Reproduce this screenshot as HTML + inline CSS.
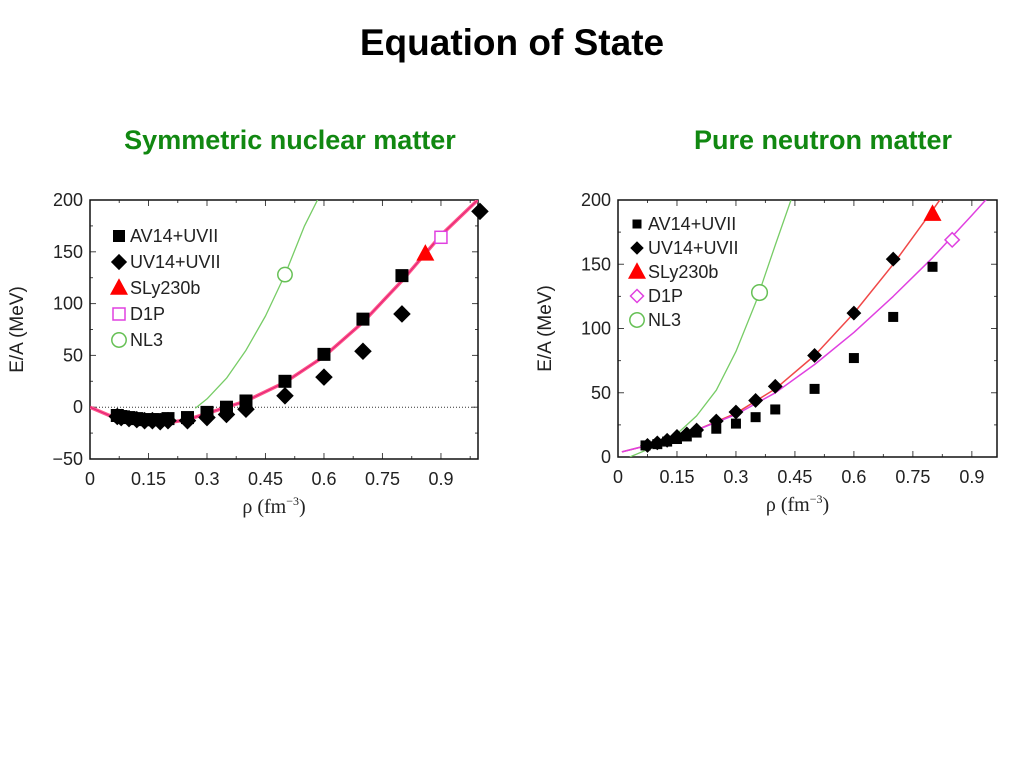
<!DOCTYPE html>
<html><head><meta charset="utf-8">
<style>
body{margin:0;background:#fff;}
svg{display:block;font-family:"Liberation Sans",sans-serif;}
</style></head>
<body>
<svg id="s" width="1023" height="767" viewBox="0 0 1023 767">
<text x="512" y="55" text-anchor="middle" font-size="37" font-weight="bold">Equation of State</text>
<text x="290" y="149" text-anchor="middle" font-size="27" font-weight="bold" fill="#118811">Symmetric nuclear matter</text>
<text x="823" y="149" text-anchor="middle" font-size="27" font-weight="bold" fill="#118811">Pure neutron matter</text>
<g id="L"></g>
<g id="R"></g>
</svg>
<script>
// ---- Left chart data ----
const L_av14_x=[0.07,0.08,0.1,0.12,0.14,0.16,0.18,0.2,0.25,0.3,0.35,0.4,0.5,0.6,0.7,0.8];
const L_av14_y=[-8,-9,-10,-11,-12,-12,-12,-11,-10,-5,0,6,25,51,85,127];
const L_uv14_x=[0.07,0.08,0.1,0.12,0.14,0.16,0.18,0.2,0.25,0.3,0.35,0.4,0.5,0.6,0.7,0.8,1.0];
const L_uv14_y=[-9,-10,-11,-12,-13,-13,-14,-13,-13,-10,-7,-2,11,29,54,90,189];
const L_sly_x=[0.86], L_sly_y=[148];
const L_d1p_x=[0.9], L_d1p_y=[164];
const L_nl3_x=[0.5], L_nl3_y=[128];
const L_curve_x=[0,0.05,0.1,0.16,0.2,0.25,0.3,0.35,0.4,0.5,0.6,0.7,0.8,0.9,1.0];
const L_curve_y=[0,-8,-13,-16,-15,-12,-6,0,6,24,49,82,122,166,202];
const L_nl3c_x=[0.27,0.3,0.35,0.4,0.45,0.5,0.55,0.59];
const L_nl3c_y=[-1,8,28,55,88,128,175,205];
const L_yticks=[-50,0,50,100,150,200];
const L_xticks=[0,0.15,0.3,0.45,0.6,0.75,0.9];
const L_xtick_labels=["0","0.15","0.3","0.45","0.6","0.75","0.9"];
// ---- Right chart data ----
const R_av14_x=[0.07,0.1,0.125,0.15,0.175,0.2,0.25,0.3,0.35,0.4,0.5,0.6,0.7,0.8];
const R_av14_y=[9,10,12,14,16,19,22,26,31,37,53,77,109,148];
const R_uv14_x=[0.075,0.1,0.125,0.15,0.175,0.2,0.25,0.3,0.35,0.4,0.5,0.6,0.7];
const R_uv14_y=[9,11,13,16,18,21,28,35,44,55,79,112,154];
const R_sly_x=[0.8], R_sly_y=[189];
const R_d1p_x=[0.85], R_d1p_y=[169];
const R_nl3_x=[0.36], R_nl3_y=[128];
const R_red_x=[0.01,0.1,0.2,0.3,0.4,0.5,0.6,0.7,0.8,0.83];
const R_red_y=[4,11,21,34,53,79,112,150,192,205];
const R_pink_x=[0.01,0.1,0.2,0.3,0.4,0.5,0.6,0.7,0.8,0.9,0.95];
const R_pink_y=[4,11,21,33,50,72,97,125,155,188,205];
const R_nl3c_x=[0.03,0.1,0.15,0.2,0.25,0.3,0.35,0.4,0.44];
const R_nl3c_y=[0,9,18,32,52,82,120,165,200];
const R_yticks=[0,50,100,150,200];
const R_xticks=[0,0.15,0.3,0.45,0.6,0.75,0.9];
const R_xtick_labels=["0","0.15","0.3","0.45","0.6","0.75","0.9"];

const NS="http://www.w3.org/2000/svg";
function mk(parent,tag,attrs){const e=document.createElementNS(NS,tag);for(const k in attrs)e.setAttribute(k,attrs[k]);parent.appendChild(e);return e;}

function chart(g,cfg){
  const sx=v=>cfg.x0+(v-cfg.xmin)/(cfg.xmax-cfg.xmin)*(cfg.x1-cfg.x0);
  const sy=v=>cfg.y1-(v-cfg.ymin)/(cfg.ymax-cfg.ymin)*(cfg.y1-cfg.y0);
  const clip='clip'+cfg.id;
  const cp=mk(g,'clipPath',{id:clip});
  mk(cp,'rect',{x:cfg.x0,y:cfg.y0,width:cfg.x1-cfg.x0,height:cfg.y1-cfg.y0});
  cfg.yticks.forEach(v=>{
    const y=sy(v);
    const t=mk(g,'text',{x:cfg.x0-7,y:y+6,'text-anchor':'end','font-size':18,fill:'#222'});t.textContent=(v<0?'\u2212'+(-v):v);
    
    
    mk(g,'line',{x1:cfg.x0,x2:cfg.x0+6,y1:y,y2:y,stroke:'#444'});
    mk(g,'line',{x1:cfg.x1,x2:cfg.x1-6,y1:y,y2:y,stroke:'#444'});
    const m=sy(v+25);
    if(v+25<cfg.ymax){mk(g,'line',{x1:cfg.x0,x2:cfg.x0+3,y1:m,y2:m,stroke:'#444'});mk(g,'line',{x1:cfg.x1,x2:cfg.x1-3,y1:m,y2:m,stroke:'#444'});}
  });
  cfg.xticks.forEach((v,i)=>{
    const x=sx(v);
    const t=mk(g,'text',{x:x,y:cfg.y1+26,'text-anchor':'middle','font-size':18,fill:'#222'});t.textContent=cfg.xlabels[i];
    
    
    mk(g,'line',{x1:x,x2:x,y1:cfg.y1,y2:cfg.y1-6,stroke:'#444'});
    mk(g,'line',{x1:x,x2:x,y1:cfg.y0,y2:cfg.y0+6,stroke:'#444'});
    const m=sx(v+0.075);
    if(v+0.075<cfg.xmax){mk(g,'line',{x1:m,x2:m,y1:cfg.y1,y2:cfg.y1-3,stroke:'#444'});mk(g,'line',{x1:m,x2:m,y1:cfg.y0,y2:cfg.y0+3,stroke:'#444'});}
  });
  const fr=mk(g,'rect',{x:cfg.x0,y:cfg.y0,width:cfg.x1-cfg.x0,height:cfg.y1-cfg.y0,fill:'none',stroke:'#111','stroke-width':1.5});
  
  
  if(cfg.zeroline){const z=mk(g,'line',{x1:cfg.x0,x2:cfg.x1,y1:sy(0),y2:sy(0),stroke:'#333','stroke-dasharray':'1,2'});
    }
  const yt=mk(g,'text',{x:0,y:0,transform:`translate(${cfg.ylx},${(cfg.y0+cfg.y1)/2}) rotate(-90)`,'text-anchor':'middle','font-size':19,fill:'#222'});
  yt.textContent='E/A (MeV)';
  
  
  const xt=mk(g,'text',{x:(cfg.x0+cfg.x1)/2-10,y:cfg.y1+54,'text-anchor':'middle','font-size':20,'font-family':'Liberation Serif, serif',fill:'#222'});
  xt.innerHTML='ρ (fm<tspan dy="-8" font-size="12">−3</tspan><tspan dy="8">)</tspan>';
  
  
  function curve(xs,ys,color,w,name){
    let d='';xs.forEach((x,i)=>{d+=(i?'L':'M')+sx(x).toFixed(1)+','+sy(ys[i]).toFixed(1);});
    const p=mk(g,'path',{d:d,fill:'none',stroke:color,'stroke-width':w,'clip-path':`url(#${clip})`,'stroke-linejoin':'round'});
    
    
  }
  cfg.curves.forEach(c=>curve(c[0],c[1],c[2],c[3],c[4]));
  function marker(cx,cy,type,s,name){
    let e;
    if(type==='sq') e=mk(g,'rect',{x:cx-s,y:cy-s,width:2*s,height:2*s,fill:'#000'});
    else if(type==='dm') e=mk(g,'polygon',{points:`${cx},${cy-s*1.35} ${cx+s*1.35},${cy} ${cx},${cy+s*1.35} ${cx-s*1.35},${cy}`,fill:'#000'});
    else if(type==='tri') e=mk(g,'polygon',{points:`${cx},${cy-s*1.3} ${cx+s*1.2},${cy+s*0.9} ${cx-s*1.2},${cy+s*0.9}`,fill:'#f00'});
    else if(type==='osq') e=mk(g,'rect',{x:cx-s,y:cy-s,width:2*s,height:2*s,fill:'#fff',stroke:'#e040e0','stroke-width':1.5});
    else if(type==='odm') e=mk(g,'polygon',{points:`${cx},${cy-s*1.3} ${cx+s*1.3},${cy} ${cx},${cy+s*1.3} ${cx-s*1.3},${cy}`,fill:'#fff',stroke:'#e040e0','stroke-width':1.5});
    else if(type==='oc') e=mk(g,'circle',{cx:cx,cy:cy,r:s*1.2,fill:'#fff',stroke:'#66c055','stroke-width':1.5});
    
    
  }
  cfg.series.forEach(sr=>sr[0].forEach((x,i)=>marker(sx(x),sy(sr[1][i]),sr[2],sr[3],sr[4])));
  cfg.legend.forEach((l,i)=>{
    const y=cfg.legY+i*cfg.legDy;
    marker(cfg.legX,y,l[1],l[2],'legend-marker');
    const t=mk(g,'text',{x:cfg.legX+11,y:y+6,'font-size':18,fill:'#222'});t.textContent=l[0];
    
    
  });
}

chart(document.getElementById('L'),{id:'L',x0:90,x1:478,y0:200,y1:459,xmin:0,xmax:0.995,ymin:-50,ymax:200,
  yticks:L_yticks,xticks:L_xticks,xlabels:L_xtick_labels,zeroline:true,ylx:23,
  curves:[[L_curve_x,L_curve_y,'#ff5588',3.5,'sly-d1p-curve'],[L_curve_x,L_curve_y,'#e0207a',1,'sly-curve'],[L_nl3c_x,L_nl3c_y,'#77cc66',1.3,'nl3-curve']],
  series:[[L_av14_x,L_av14_y,'sq',6.5,'av14-point'],[L_uv14_x,L_uv14_y,'dm',6.5,'uv14-point'],[L_sly_x,L_sly_y,'tri',7.5,'sly230b-point'],[L_d1p_x,L_d1p_y,'osq',6,'d1p-point'],[L_nl3_x,L_nl3_y,'oc',6,'nl3-point']],
  legX:119,legY:236,legDy:26,
  legend:[['AV14+UVII','sq',6],['UV14+UVII','dm',6],['SLy230b','tri',7.5],['D1P','osq',6],['NL3','oc',6]]});

chart(document.getElementById('R'),{id:'R',x0:618,x1:997,y0:200,y1:457,xmin:0,xmax:0.964,ymin:0,ymax:200,
  yticks:R_yticks,xticks:R_xticks,xlabels:R_xtick_labels,zeroline:false,ylx:551,
  curves:[[R_red_x,R_red_y,'#f04848',1.5,'sly230b-curve'],[R_pink_x,R_pink_y,'#e040e0',1.5,'d1p-curve'],[R_nl3c_x,R_nl3c_y,'#77cc66',1.3,'nl3-curve']],
  series:[[R_av14_x,R_av14_y,'sq',5,'av14-point'],[R_uv14_x,R_uv14_y,'dm',5.5,'uv14-point'],[R_sly_x,R_sly_y,'tri',7.5,'sly230b-point'],[R_d1p_x,R_d1p_y,'odm',5.5,'d1p-point'],[R_nl3_x,R_nl3_y,'oc',6.5,'nl3-point']],
  legX:637,legY:224,legDy:24,
  legend:[['AV14+UVII','sq',4.5],['UV14+UVII','dm',5],['SLy230b','tri',7.5],['D1P','odm',5],['NL3','oc',6]]});
</script>
</body></html>
